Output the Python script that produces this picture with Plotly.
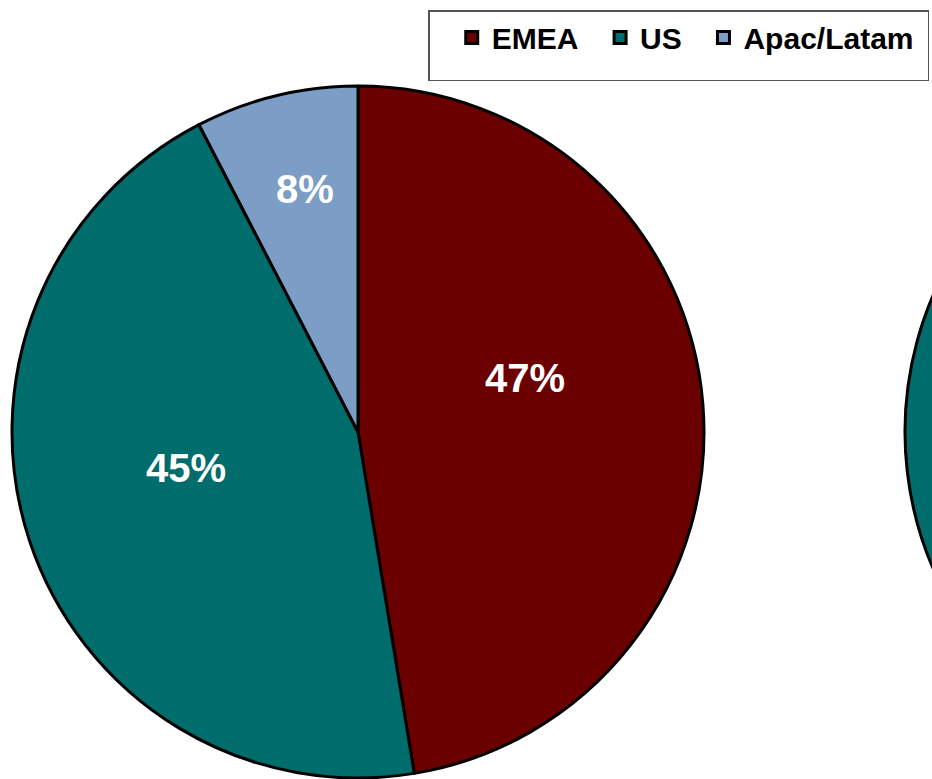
import plotly.graph_objects as go

# Data
regions = ["EMEA", "US", "Apac/Latam"]
share_left = [47.4, 45.0, 7.6]      # visible pie
share_right = [44.0, 47.0, 9.0]     # second pie, only a sliver visible (estimated)
colors = ["#6a0000", "#006c6c", "#7b9dc6"]

W, H = 1600, 779
R = 346
cx1, cy1 = 358, 432
cx2, cy2 = 1251, 432

# label anchor points (pixels from top-left), placement only
label_px = [(525, 378), (186, 468), (305, 189)]
# extra spacing after legend entries (non-breaking spaces, invisible)
legend_pad = [2, 2, 1]
legend_labels = [r + "\u00a0" * p for r, p in zip(regions, legend_pad)]


def dom(cx, cy):
    return dict(x=[max(0, (cx - R) / W), min(1, (cx + R) / W)],
                y=[max(0, (H - cy - R) / H), min(1, (H - cy + R) / H)])


common = dict(
    labels=legend_labels,
    customdata=regions,
    sort=False,
    direction="clockwise",
    rotation=0,
    marker=dict(colors=colors, line=dict(color="#000000", width=3)),
    textinfo="none",
    hovertemplate="%{customdata}: %{percent}<extra></extra>",
)

fig = go.Figure()
fig.add_trace(go.Pie(values=share_left, domain=dom(cx1, cy1), **common))
fig.add_trace(go.Pie(values=share_right, domain=dom(cx2, cy2), showlegend=False, **common))

total = sum(share_left)
for v, (px, py) in zip(share_left, label_px):
    fig.add_annotation(
        x=px / W, y=1 - py / H, xref="paper", yref="paper",
        text=f"{round(v / total * 100)}%", showarrow=False,
        xanchor="center", yanchor="middle",
        font=dict(family="Liberation Sans", size=40, color="white", weight="bold"),
    )

fig.update_layout(
    width=W, height=H,
    margin=dict(l=0, r=0, t=0, b=0),
    paper_bgcolor="white",
    plot_bgcolor="white",
    showlegend=True,
    legend=dict(
        orientation="h",
        x=428 / W, xanchor="left",
        y=1 - 10 / H, yanchor="top",
        bordercolor="#555555", borderwidth=1.5,
        bgcolor="white",
        font=dict(family="Liberation Sans", size=30, color="black", weight="bold"),
        title=dict(text="&nbsp;", side="left",
                   font=dict(family="Liberation Sans", size=44, color="black")),
        itemclick=False,
    ),
)

fig.write_html(
    "out.html",
    post_script="document.documentElement.style.overflow='hidden';document.body.style.overflow='hidden';document.body.style.margin='0';",
)
